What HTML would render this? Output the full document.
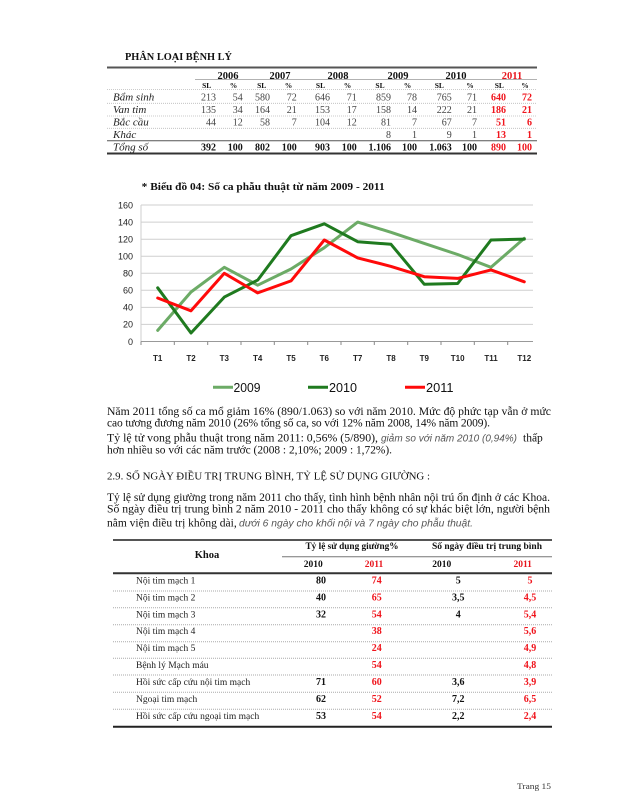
<!DOCTYPE html>
<html>
<head>
<meta charset="utf-8">
<style>
html,body{margin:0;padding:0;background:#fff;}
svg{display:block;}
.s{font-family:"Liberation Serif","DejaVu Serif",serif;}
.a{font-family:"Liberation Sans","DejaVu Sans",sans-serif;}
</style>
</head>
<body>
<svg width="618" height="800" viewBox="0 0 618 800" xmlns="http://www.w3.org/2000/svg">
<rect width="618" height="800" fill="#fff"/>

<!-- ===== TOP TABLE ===== -->
<text class="s" x="125" y="60" font-size="10" font-weight="bold" fill="#111" textLength="107" lengthAdjust="spacingAndGlyphs">PHÂN LOẠI BỆNH LÝ</text>
<line x1="107" y1="67.5" x2="537" y2="67.5" stroke="#555" stroke-width="2"/>
<line x1="195" y1="79.5" x2="537" y2="79.5" stroke="#999" stroke-width="0.8"/>
<line x1="107" y1="89.5" x2="537" y2="89.5" stroke="#bbb" stroke-width="0.8" stroke-dasharray="1,1"/>
<line x1="107" y1="103.3" x2="537" y2="103.3" stroke="#bbb" stroke-width="0.8" stroke-dasharray="1,1"/>
<line x1="107" y1="116" x2="537" y2="116" stroke="#bbb" stroke-width="0.8" stroke-dasharray="1,1"/>
<line x1="107" y1="128.3" x2="537" y2="128.3" stroke="#bbb" stroke-width="0.8" stroke-dasharray="1,1"/>
<line x1="107" y1="140.7" x2="537" y2="140.7" stroke="#555" stroke-width="1"/>
<line x1="107" y1="153.5" x2="537" y2="153.5" stroke="#333" stroke-width="2"/>

<g class="s" font-size="10.5" font-weight="bold" fill="#111" text-anchor="middle">
<text x="228" y="79">2006</text>
<text x="280" y="79">2007</text>
<text x="338" y="79">2008</text>
<text x="398" y="79">2009</text>
<text x="456" y="79">2010</text>
<text x="512" y="79" fill="#e8141c">2011</text>
</g>
<g class="s" font-size="7.5" font-weight="bold" fill="#111" text-anchor="middle">
<text x="206.7" y="88">SL</text><text x="233.5" y="88">%</text>
<text x="261.7" y="88">SL</text><text x="288.5" y="88">%</text>
<text x="320.5" y="88">SL</text><text x="347.5" y="88">%</text>
<text x="380" y="88">SL</text><text x="407.5" y="88">%</text>
<text x="439.3" y="88">SL</text><text x="470" y="88">%</text>
<text x="499.3" y="88">SL</text><text x="525" y="88">%</text>
</g>
<g class="s" font-size="11" font-style="italic" fill="#222">
<text x="113" y="100.5">Bẩm sinh</text>
<text x="113" y="113">Van tim</text>
<text x="113" y="125.5">Bắc cầu</text>
<text x="113" y="138">Khác</text>
<text x="113" y="150.5">Tổng số</text>
</g>
<g class="s" font-size="10" fill="#444" text-anchor="end">
<text x="216" y="100.5">213</text><text x="242.7" y="100.5">54</text>
<text x="270" y="100.5">580</text><text x="296.7" y="100.5">72</text>
<text x="330" y="100.5">646</text><text x="356.7" y="100.5">71</text>
<text x="391" y="100.5">859</text><text x="417" y="100.5">78</text>
<text x="451.7" y="100.5">765</text><text x="477" y="100.5">71</text>

<text x="216" y="113">135</text><text x="242.7" y="113">34</text>
<text x="270" y="113">164</text><text x="296.7" y="113">21</text>
<text x="330" y="113">153</text><text x="356.7" y="113">17</text>
<text x="391" y="113">158</text><text x="417" y="113">14</text>
<text x="451.7" y="113">222</text><text x="477" y="113">21</text>

<text x="216" y="125.5">44</text><text x="242.7" y="125.5">12</text>
<text x="270" y="125.5">58</text><text x="296.7" y="125.5">7</text>
<text x="330" y="125.5">104</text><text x="356.7" y="125.5">12</text>
<text x="391" y="125.5">81</text><text x="417" y="125.5">7</text>
<text x="451.7" y="125.5">67</text><text x="477" y="125.5">7</text>

<text x="391" y="138">8</text><text x="417" y="138">1</text>
<text x="451.7" y="138">9</text><text x="477" y="138">1</text>
</g>
<g class="s" font-size="10" font-weight="bold" fill="#111" text-anchor="end">
<text x="216" y="150.5">392</text><text x="242.7" y="150.5">100</text>
<text x="270" y="150.5">802</text><text x="296.7" y="150.5">100</text>
<text x="330" y="150.5">903</text><text x="356.7" y="150.5">100</text>
<text x="391" y="150.5">1.106</text><text x="417" y="150.5">100</text>
<text x="451.7" y="150.5">1.063</text><text x="477" y="150.5">100</text>
</g>
<g class="s" font-size="10" font-weight="bold" fill="#f0141c" text-anchor="end">
<text x="506" y="100.5">640</text><text x="532" y="100.5">72</text>
<text x="506" y="113">186</text><text x="532" y="113">21</text>
<text x="506" y="125.5">51</text><text x="532" y="125.5">6</text>
<text x="506" y="138">13</text><text x="532" y="138">1</text>
<text x="506" y="150.5">890</text><text x="532" y="150.5">100</text>
</g>

<!-- ===== CHART ===== -->
<text class="s" x="141.7" y="190" font-size="11" font-weight="bold" fill="#111" textLength="243" lengthAdjust="spacingAndGlyphs">* Biểu đồ 04: Số ca phẫu thuật từ năm 2009 - 2011</text>

<g stroke="#cfcfcf" stroke-width="1">
<line x1="141" y1="205" x2="533" y2="205"/>
<line x1="141" y1="222.1" x2="533" y2="222.1"/>
<line x1="141" y1="239.2" x2="533" y2="239.2"/>
<line x1="141" y1="256.2" x2="533" y2="256.2"/>
<line x1="141" y1="273.3" x2="533" y2="273.3"/>
<line x1="141" y1="290.3" x2="533" y2="290.3"/>
<line x1="141" y1="307.4" x2="533" y2="307.4"/>
<line x1="141" y1="324.4" x2="533" y2="324.4"/>
<line x1="141" y1="205" x2="141" y2="341.5"/>
</g>
<line x1="141" y1="341.5" x2="533" y2="341.5" stroke="#999" stroke-width="1"/>
<g stroke="#888" stroke-width="1">
<line x1="141" y1="341.5" x2="141" y2="345"/>
<line x1="174.3" y1="341.5" x2="174.3" y2="345"/>
<line x1="207.7" y1="341.5" x2="207.7" y2="345"/>
<line x1="241" y1="341.5" x2="241" y2="345"/>
<line x1="274.3" y1="341.5" x2="274.3" y2="345"/>
<line x1="307.7" y1="341.5" x2="307.7" y2="345"/>
<line x1="341" y1="341.5" x2="341" y2="345"/>
<line x1="374.3" y1="341.5" x2="374.3" y2="345"/>
<line x1="407.7" y1="341.5" x2="407.7" y2="345"/>
<line x1="441" y1="341.5" x2="441" y2="345"/>
<line x1="474.3" y1="341.5" x2="474.3" y2="345"/>
<line x1="507.7" y1="341.5" x2="507.7" y2="345"/>
</g>
<g class="a" font-size="9" fill="#222" text-anchor="end">
<text x="133" y="208.3">160</text>
<text x="133" y="225.4">140</text>
<text x="133" y="242.5">120</text>
<text x="133" y="259.5">100</text>
<text x="133" y="276.6">80</text>
<text x="133" y="293.6">60</text>
<text x="133" y="310.7">40</text>
<text x="133" y="327.7">20</text>
<text x="133" y="344.8">0</text>
</g>
<g class="a" font-size="8" font-weight="bold" fill="#222" text-anchor="middle">
<text x="157.7" y="361">T1</text>
<text x="191" y="361">T2</text>
<text x="224.3" y="361">T3</text>
<text x="257.7" y="361">T4</text>
<text x="291" y="361">T5</text>
<text x="324.3" y="361">T6</text>
<text x="357.7" y="361">T7</text>
<text x="391" y="361">T8</text>
<text x="424.3" y="361">T9</text>
<text x="457.7" y="361">T10</text>
<text x="491" y="361">T11</text>
<text x="524.3" y="361">T12</text>
</g>

<g fill="none" stroke-width="3" stroke-linejoin="round" stroke-linecap="round">
<polyline stroke="#6cab66" points="157.7,330.4 191,292 224.3,267.3 257.7,285.2 291,269 324.3,247.7 357.7,222.1 391,232.3 424.3,243.4 457.7,254.5 491,267.3 524.3,238.3"/>
<polyline stroke="#1f7a1f" points="157.7,287.8 191,333 224.3,297.1 257.7,280.1 291,235.7 324.3,223.8 357.7,241.7 391,244.3 424.3,284.3 457.7,283.5 491,240 524.3,239.1"/>
<polyline stroke="#ff0a0a" points="157.7,298 191,310.8 224.3,273.3 257.7,292.9 291,280.9 324.3,240 357.7,257.9 391,266.4 424.3,276.7 457.7,278.4 491,269.9 524.3,281.8"/>
</g>

<!-- legend -->
<line x1="213" y1="387.3" x2="233" y2="387.3" stroke="#6cab66" stroke-width="3"/>
<line x1="308" y1="387.3" x2="328" y2="387.3" stroke="#1f7a1f" stroke-width="3"/>
<line x1="405" y1="387.3" x2="425" y2="387.3" stroke="#ff0a0a" stroke-width="3"/>
<g class="a" font-size="13" fill="#111">
<text x="233.5" y="392" textLength="27" lengthAdjust="spacingAndGlyphs">2009</text>
<text x="329" y="392" textLength="28" lengthAdjust="spacingAndGlyphs">2010</text>
<text x="426" y="392" textLength="27.5" lengthAdjust="spacingAndGlyphs">2011</text>
</g>

<!-- ===== PARAGRAPHS ===== -->
<g class="s" font-size="11.5" fill="#111">
<text x="107" y="415" textLength="444" lengthAdjust="spacingAndGlyphs">Năm 2011 tổng số ca mổ giảm 16% (890/1.063) so với năm 2010. Mức độ phức tạp vẫn ở mức</text>
<text x="107" y="426.7" textLength="383" lengthAdjust="spacing">cao tương đương năm 2010 (26% tổng số ca, so với 12% năm 2008, 14% năm 2009).</text>
<text x="107" y="441.7" textLength="271" lengthAdjust="spacingAndGlyphs">Tỷ lệ tử vong phẫu thuật trong năm 2011: 0,56% (5/890),</text>
<text x="523" y="441.7">thấp</text>
<text x="107" y="453.3" textLength="285" lengthAdjust="spacingAndGlyphs">hơn nhiều so với các năm trước (2008 : 2,10%; 2009 : 1,72%).</text>
<text x="107" y="479.3" font-size="11" textLength="323" lengthAdjust="spacingAndGlyphs">2.9. SỐ NGÀY ĐIỀU TRỊ TRUNG BÌNH, TỶ LỆ SỬ DỤNG GIƯỜNG :</text>
<text x="107" y="501" textLength="443" lengthAdjust="spacingAndGlyphs">Tỷ lệ sử dụng giường trong năm 2011 cho thấy, tình hình bệnh nhân nội trú ổn định ở các Khoa.</text>
<text x="107" y="512.7" textLength="443" lengthAdjust="spacingAndGlyphs">Số ngày điều trị trung bình 2 năm 2010 - 2011 cho thấy không có sự khác biệt lớn, người bệnh</text>
<text x="107" y="526.7" textLength="129.7" lengthAdjust="spacingAndGlyphs">nằm viện điều trị không dài,</text>
</g>
<g class="a" font-size="10" font-style="italic" fill="#555">
<text x="381" y="441.7" textLength="136" lengthAdjust="spacingAndGlyphs">giảm so với năm 2010 (0,94%)</text>
<text x="239" y="526.7" textLength="234" lengthAdjust="spacingAndGlyphs">dưới 6 ngày cho khối nội và 7 ngày cho phẫu thuật.</text>
</g>

<!-- ===== BOTTOM TABLE ===== -->
<line x1="113" y1="540" x2="552" y2="540" stroke="#555" stroke-width="2"/>
<line x1="282" y1="556.7" x2="552" y2="556.7" stroke="#777" stroke-width="1"/>
<line x1="113" y1="573.3" x2="552" y2="573.3" stroke="#333" stroke-width="2"/>
<g stroke="#aaa" stroke-width="1" stroke-dasharray="1,1">
<line x1="113" y1="591" x2="552" y2="591"/>
<line x1="113" y1="607.7" x2="552" y2="607.7"/>
<line x1="113" y1="624.7" x2="552" y2="624.7"/>
<line x1="113" y1="641.7" x2="552" y2="641.7"/>
<line x1="113" y1="658.3" x2="552" y2="658.3"/>
<line x1="113" y1="675" x2="552" y2="675"/>
<line x1="113" y1="692.3" x2="552" y2="692.3"/>
<line x1="113" y1="709.3" x2="552" y2="709.3"/>
</g>
<line x1="113" y1="726.7" x2="552" y2="726.7" stroke="#222" stroke-width="2"/>

<g class="s" font-weight="bold" fill="#111" text-anchor="middle">
<text x="207" y="558" font-size="10.5">Khoa</text>
<text x="352" y="549" font-size="9.5" textLength="93" lengthAdjust="spacingAndGlyphs">Tỷ lệ sử dụng giường%</text>
<text x="487" y="549" font-size="9.5" textLength="110" lengthAdjust="spacingAndGlyphs">Số ngày điều trị trung bình</text>
<text x="313.3" y="567" font-size="9.5">2010</text>
<text x="374" y="567" font-size="9.5" fill="#e8141c">2011</text>
<text x="441.7" y="567" font-size="9.5">2010</text>
<text x="522.7" y="567" font-size="9.5" fill="#e8141c">2011</text>
</g>

<g class="s" font-size="9.5" fill="#222">
<text x="136" y="583.5">Nội tim mạch 1</text>
<text x="136" y="600.5">Nội tim mạch 2</text>
<text x="136" y="617.5">Nội tim mạch 3</text>
<text x="136" y="634.2">Nội tim mạch 4</text>
<text x="136" y="650.8">Nội tim mạch 5</text>
<text x="136" y="667.8">Bệnh lý Mạch máu</text>
<text x="136" y="685.2">Hồi sức cấp cứu nội tim mạch</text>
<text x="136" y="701.8">Ngoại tim mạch</text>
<text x="136" y="719.2">Hồi sức cấp cứu ngoại tim mạch</text>
</g>
<g class="s" font-size="10" font-weight="bold" fill="#111" text-anchor="middle">
<text x="321" y="583.5">80</text><text x="458.3" y="583.5">5</text>
<text x="321" y="600.5">40</text><text x="458.3" y="600.5">3,5</text>
<text x="321" y="617.5">32</text><text x="458.3" y="617.5">4</text>
<text x="321" y="685.2">71</text><text x="458.3" y="685.2">3,6</text>
<text x="321" y="701.8">62</text><text x="458.3" y="701.8">7,2</text>
<text x="321" y="719.2">53</text><text x="458.3" y="719.2">2,2</text>
</g>
<g class="s" font-size="10" font-weight="bold" fill="#f0141c" text-anchor="middle">
<text x="376.7" y="583.5">74</text><text x="530" y="583.5">5</text>
<text x="376.7" y="600.5">65</text><text x="530" y="600.5">4,5</text>
<text x="376.7" y="617.5">54</text><text x="530" y="617.5">5,4</text>
<text x="376.7" y="634.2">38</text><text x="530" y="634.2">5,6</text>
<text x="376.7" y="650.8">24</text><text x="530" y="650.8">4,9</text>
<text x="376.7" y="667.8">54</text><text x="530" y="667.8">4,8</text>
<text x="376.7" y="685.2">60</text><text x="530" y="685.2">3,9</text>
<text x="376.7" y="701.8">52</text><text x="530" y="701.8">6,5</text>
<text x="376.7" y="719.2">54</text><text x="530" y="719.2">2,4</text>
</g>

<text class="s" x="517" y="789" font-size="8.5" fill="#333" textLength="34" lengthAdjust="spacingAndGlyphs">Trang 15</text>
</svg>
</body>
</html>
